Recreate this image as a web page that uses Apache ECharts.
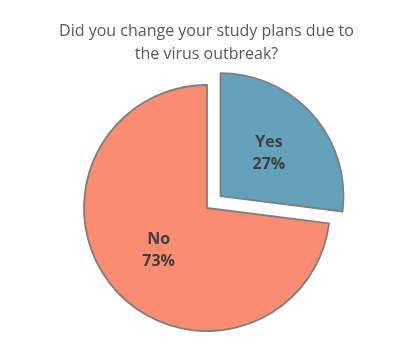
<!DOCTYPE html>
<html><head><meta charset="utf-8">
<script src="https://cdn.jsdelivr.net/npm/echarts@6/dist/echarts.min.js"></script>
<style>html,body{margin:0;padding:0;background:#fff}#c{width:413px;height:354px}</style>
</head><body><div id="c"></div>
<script>
const titleText = 'Did you change your study plans due to\nthe virus outbreak?';
const categories = ['Yes', 'No'];
const values = [27, 73];
const colors = ['#64A2BC', '#FA8C72'];
const chart = echarts.init(document.getElementById('c'), null, {renderer: 'canvas'});
chart.setOption({
  animation: false,
  title: {
    text: titleText, left: 'center', top: 15,
    textStyle: {fontFamily: 'Open Sans', fontSize: 16, fontWeight: 'normal', color: '#595959', lineHeight: 23}
  },
  series: [{
    type: 'pie',
    center: [207, 208],
    radius: 123,
    startAngle: 90,
    clockwise: true,
    selectedMode: 'single',
    selectedOffset: 18,
    data: categories.map((c, i) => ({name: c, value: values[i], selected: i === 0, itemStyle: {color: colors[i]}})),
    itemStyle: {borderColor: '#7f7f7f', borderWidth: 1.8},
    label: {
      position: 'inside',
      formatter: p => p.name + '\n' + p.value + '%',
      fontFamily: 'Open Sans', fontWeight: 'bold', fontSize: 16, lineHeight: 22, color: '#404040'
    },
    labelLine: {show: false},
    emphasis: {disabled: true}
  }]
});
</script></body></html>
